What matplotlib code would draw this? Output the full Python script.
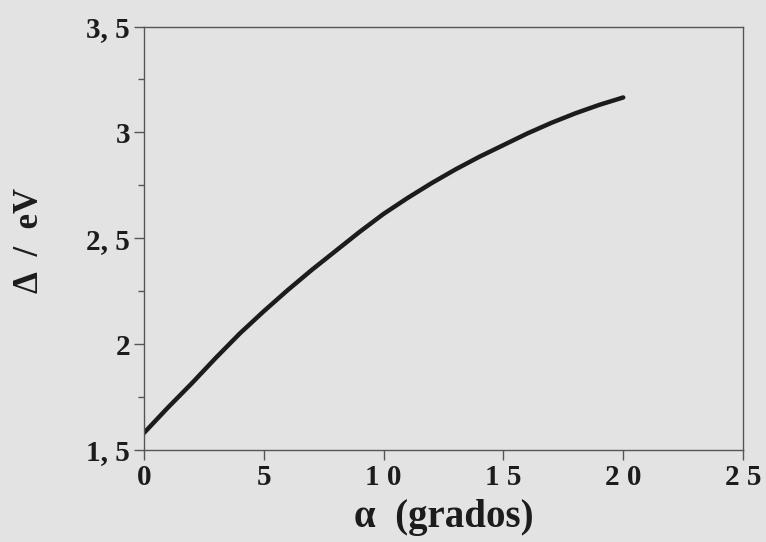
import matplotlib
matplotlib.use("Agg")
import matplotlib.pyplot as plt
from matplotlib.ticker import MultipleLocator, FuncFormatter

alpha_deg = [0, 1, 2, 3, 4, 5, 6, 7, 8, 9, 10, 11, 12, 13, 14, 15, 16, 17, 18, 19, 20]
delta_ev = [1.58, 1.70, 1.815, 1.935, 2.05, 2.155, 2.255, 2.35, 2.44, 2.53, 2.615,
            2.69, 2.76, 2.825, 2.885, 2.94, 2.995, 3.045, 3.09, 3.13, 3.165]

xticks = [0, 5, 10, 15, 20, 25]
yticks = [1.5, 2, 2.5, 3, 3.5]

bg = "#e3e3e3"
ink = "#1c1c1c"
plt.rcParams['font.family'] = ['Liberation Serif', 'DejaVu Serif']

fig = plt.figure(figsize=(7.66, 5.42), dpi=100, facecolor=bg)
ax = fig.add_axes([0.188, 0.170, 0.782, 0.781], facecolor=bg)

ax.plot(alpha_deg, delta_ev, color=ink, lw=3.2, solid_capstyle='round',
        solid_joinstyle='round')

ax.set_xlim(0, 25)
ax.set_ylim(1.5, 3.5)
ax.set_xticks(xticks)
ax.set_yticks(yticks)
ax.yaxis.set_minor_locator(MultipleLocator(0.25))

def fmt(v, pos):
    s = ('%g' % v)
    return s.replace('.', ', ')
ax.yaxis.set_major_formatter(FuncFormatter(fmt))
ax.xaxis.set_major_formatter(FuncFormatter(lambda v, p: ' '.join('%d' % v) if v >= 10 else '%d' % v))

for sp in ax.spines.values():
    sp.set_color('#555555')
    sp.set_linewidth(1.0)

ax.tick_params(axis='both', which='major', direction='out', length=7, width=1.0,
               color='#555555', labelsize=21, labelcolor=ink, pad=3)
ax.tick_params(axis='y', which='minor', direction='out', length=4, width=1.0, color='#555555')
for lab in ax.get_xticklabels() + ax.get_yticklabels():
    lab.set_fontweight('bold')

fig.text(0.58, 0.046, 'α  (grados)', ha='center', va='center', fontsize=28,
         fontweight='bold', color=ink)
fig.text(0.038, 0.557, 'Δ  /  eV', ha='center', va='center', rotation=90, fontsize=25,
         fontweight='bold', color=ink)

fig.savefig('out.png', dpi=100, facecolor=bg)
